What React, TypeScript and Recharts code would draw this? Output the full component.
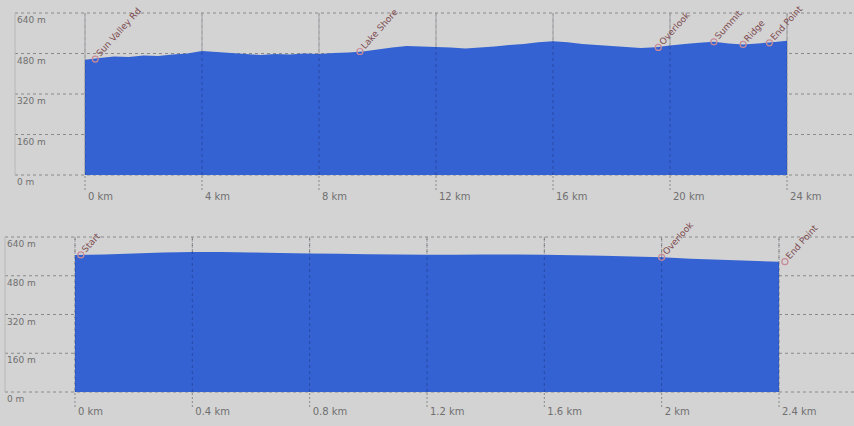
import React from "react";
import {
	ComposedChart,
	Area,
	XAxis,
	YAxis,
	CartesianGrid,
	ReferenceDot,
	ReferenceLine,
} from "recharts";

// elevation profile, long route (km / m)
const routeKm = [
	0, 0.5, 1, 1.5, 2, 2.5, 3, 3.5, 4, 4.5, 5, 5.5, 6, 6.5, 7, 7.5, 8, 8.5, 9, 9.5,
	10, 10.5, 11, 11.5, 12, 12.5, 13, 13.5, 14, 14.5, 15, 15.5, 16, 16.5, 17, 17.5,
	18, 18.5, 19, 19.5, 20, 20.5, 21, 21.5, 22, 22.5, 23, 23.5, 24,
];
const routeElev = [
	455, 462, 468, 466, 472, 470, 476, 480, 490, 486, 482, 478, 474, 478, 476, 480,
	478, 482, 484, 488, 496, 504, 510, 508, 506, 504, 500, 504, 508, 514, 518, 524,
	528, 524, 518, 514, 510, 506, 502, 505, 512, 518, 522, 526, 520, 516, 520, 524,
	530,
];

// short route
const shortKm = [
	0, 0.1, 0.2, 0.3, 0.4, 0.5, 0.6, 0.7, 0.8, 0.9, 1.0, 1.1, 1.2, 1.3, 1.4, 1.5,
	1.6, 1.7, 1.8, 1.9, 2.0, 2.1, 2.2, 2.3, 2.4,
];
const shortElev = [
	566, 568, 572, 576, 578, 578, 576, 574, 572, 571, 569, 568, 567, 567, 568, 568,
	567, 565, 563, 560, 556, 550, 546, 542, 538,
];

const routeTicks = [0, 4, 8, 12, 16, 20, 24];
const shortTicks = [0, 0.4, 0.8, 1.2, 1.6, 2, 2.4];
const elevTicks = [0, 160, 320, 480, 640];

const routeWaypoints = [
	{ km: 0.35, elev: 458, name: "Sun Valley Rd" },
	{ km: 9.4, elev: 488, name: "Lake Shore" },
	{ km: 19.6, elev: 504, name: "Overlook" },
	{ km: 21.5, elev: 526, name: "Summit" },
	{ km: 22.5, elev: 516, name: "Ridge" },
	{ km: 23.4, elev: 522, name: "End Point" },
];
const shortWaypoints = [
	{ km: 0.02, elev: 566, name: "Start" },
	{ km: 2.0, elev: 556, name: "Overlook" },
	{ km: 2.42, elev: 538, name: "End Point" },
];

const BG = "#d3d3d3";
const FILL = "#3462d2";
const GRID = "#8a8a8a";
const LABEL = "#707070";

const Waypoint = (name: string) => (props: any) => {
	const { cx, cy } = props;
	return (
		<g>
			<circle cx={cx} cy={cy} r={3} fill="none" stroke="#c88a96" strokeWidth={1.2} />
			<text
				x={cx + 5}
				y={cy - 2}
				transform={`rotate(-48 ${cx + 5} ${cy - 2})`}
				fontSize={9}
				fontFamily="DejaVu Sans"
				fill="#7d4b4f"
			>
				{name}
			</text>
		</g>
	);
};

interface ProfileProps {
	km: number[];
	elev: number[];
	ticks: number[];
	waypoints: { km: number; elev: number; name: string }[];
	domain: [number, number];
	height: number;
	top: number;
	axisHeight: number;
	labelX: number;
	labelDy: number;
	fmt: (v: number) => string;
}

function Profile({ km, elev, ticks, waypoints, domain, height, top, axisHeight, labelX, labelDy, fmt }: ProfileProps) {
	const data = km.map((k, i) => ({ km: k, elev: elev[i] }));
	return (
		<ComposedChart
			width={854}
			height={height}
			data={data}
			margin={{ top, right: 0, left: labelX, bottom: 0 }}
		>
			<CartesianGrid stroke={GRID} strokeDasharray="3 3" horizontalValues={elevTicks} verticalValues={ticks} />
			<XAxis
				dataKey="km"
				type="number"
				domain={domain}
				ticks={ticks}
				allowDataOverflow
				height={axisHeight}
				axisLine={false}
				tickSize={15}
				tickLine={{ stroke: GRID, strokeDasharray: "2 2" }}
				tick={(p: any) => (
					<text x={p.x + 3} y={p.y + labelDy} fontSize={10} fontFamily="DejaVu Sans" fill={LABEL}>
						{fmt(p.payload.value)}
					</text>
				)}
				interval={0}
			/>
			<YAxis
				type="number"
				domain={[0, 640]}
				ticks={elevTicks}
				mirror
				width={40}
				axisLine={false}
				tickLine={false}
				tick={(p: any) => (
					<text x={labelX + 2} y={p.y + 10} fontSize={9} fontFamily="DejaVu Sans" fill={LABEL}>
						{`${p.payload.value} m`}
					</text>
				)}
			/>
			<ReferenceLine x={domain[0]} stroke="#b8b8b8" />
			<Area
				dataKey="elev"
				type="linear"
				stroke="none"
				fill={FILL}
				fillOpacity={1}
				isAnimationActive={false}
			/>
			{ticks.map((t) => (
				<ReferenceLine key={t} x={t} stroke="rgba(0,0,40,0.25)" strokeDasharray="3 3" />
			))}
			{waypoints.map((w) => (
				<ReferenceDot key={w.name + w.km} x={w.km} y={w.elev} r={3} ifOverflow="visible" shape={Waypoint(w.name)} />
			))}
		</ComposedChart>
	);
}

export default function App() {
	return (
		<div style={{ position: "absolute", left: 0, top: 0, width: 854, height: 426, background: BG }}>
			<Profile
				km={routeKm}
				elev={routeElev}
				ticks={routeTicks}
				waypoints={routeWaypoints}
				domain={[-2.393, 26.29]}
				height={210}
				top={13}
				axisHeight={35}
				labelX={15}
				labelDy={8}
				fmt={(v) => `${v} km`}
			/>
			<Profile
				km={shortKm}
				elev={shortElev}
				ticks={shortTicks}
				waypoints={shortWaypoints}
				domain={[-0.2386, 2.6557]}
				height={216}
				top={27}
				axisHeight={34}
				labelX={5}
				labelDy={6}
				fmt={(v) => `${v} km`}
			/>
		</div>
	);
}
